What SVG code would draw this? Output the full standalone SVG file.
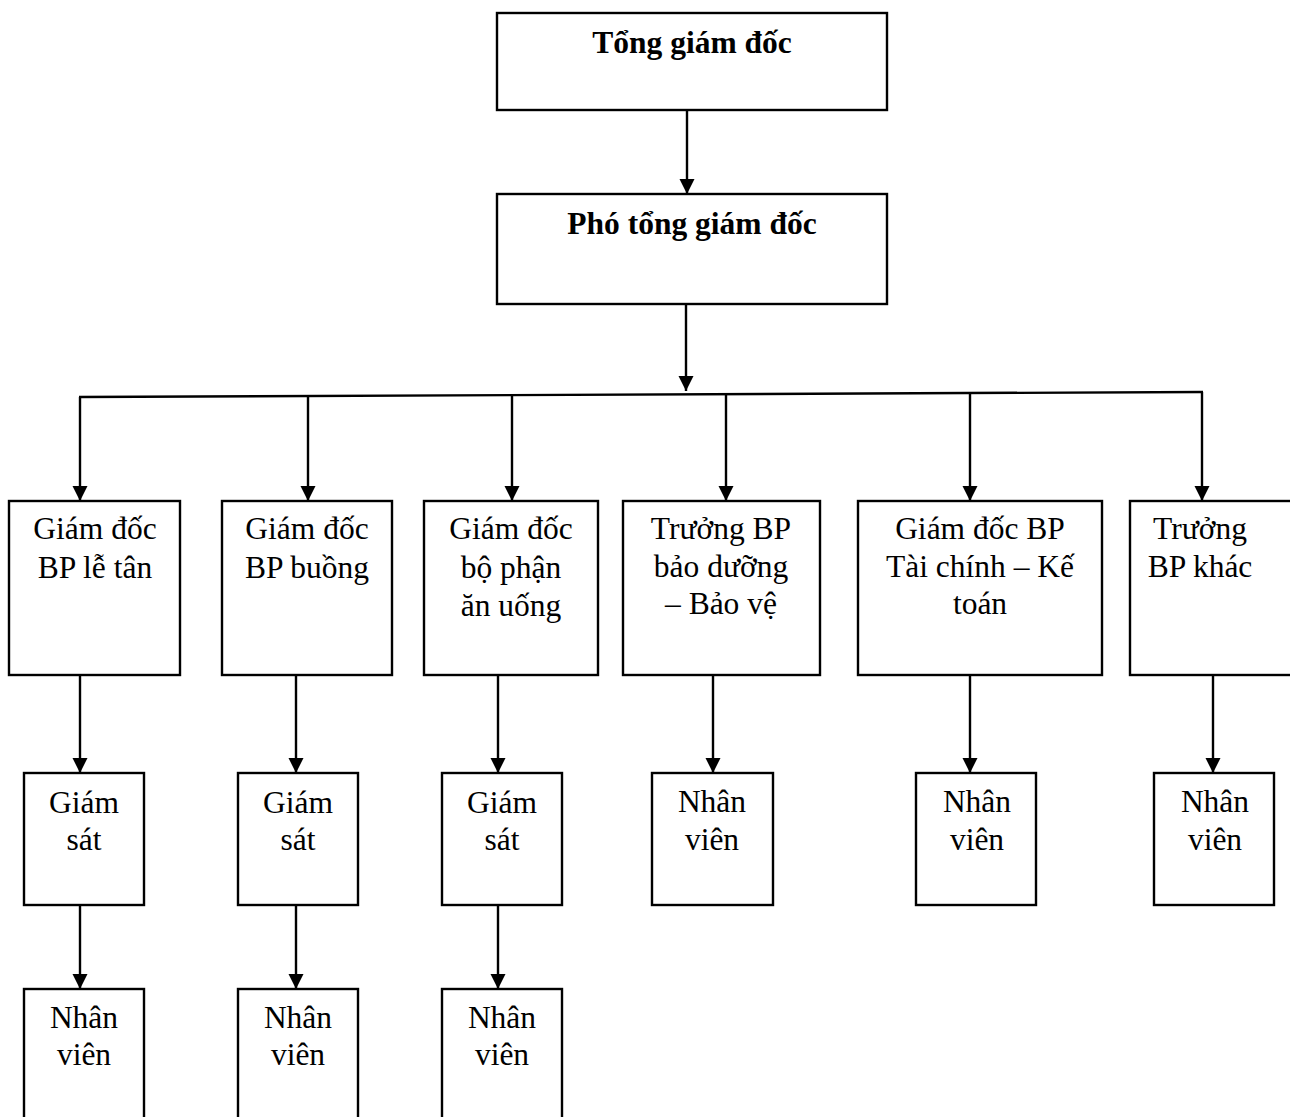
<svg xmlns="http://www.w3.org/2000/svg" width="1290" height="1117" viewBox="0 0 1290 1117">
  <style>
    .box { fill: #ffffff; stroke: #000000; stroke-width: 2.4; }
    .lbl { font-family: "Liberation Serif", "Times New Roman", serif; font-size: 31.5px; font-weight: 400; fill: #000000; text-anchor: middle; }
    .bold { font-weight: 700; }
    .wire { fill: none; stroke: #000000; stroke-width: 2.4; }
  </style>
  <defs>
    <marker id="arrow" markerUnits="userSpaceOnUse" markerWidth="16" markerHeight="16" viewBox="0 0 16 16" refX="15" refY="8" orient="auto">
      <path d="M0,0.5 L15,8 L0,15.5 Z" fill="#000000"/>
    </marker>
  </defs>
  <rect width="1290" height="1117" fill="#ffffff"/>

  <!-- connectors -->
  <g id="connectors" class="wire">
    <line x1="687" y1="110" x2="687" y2="194" marker-end="url(#arrow)"/>
    <line x1="686" y1="304" x2="686" y2="391" marker-end="url(#arrow)"/>
    <line x1="79" y1="397" x2="1203" y2="392"/>
    <line x1="80" y1="397" x2="80" y2="501" marker-end="url(#arrow)"/>
    <line x1="308" y1="396" x2="308" y2="501" marker-end="url(#arrow)"/>
    <line x1="512" y1="395" x2="512" y2="501" marker-end="url(#arrow)"/>
    <line x1="726" y1="394" x2="726" y2="501" marker-end="url(#arrow)"/>
    <line x1="970" y1="393" x2="970" y2="501" marker-end="url(#arrow)"/>
    <line x1="1202" y1="392" x2="1202" y2="501" marker-end="url(#arrow)"/>
    <line x1="80" y1="675" x2="80" y2="773" marker-end="url(#arrow)"/>
    <line x1="296" y1="675" x2="296" y2="773" marker-end="url(#arrow)"/>
    <line x1="498" y1="675" x2="498" y2="773" marker-end="url(#arrow)"/>
    <line x1="713" y1="675" x2="713" y2="773" marker-end="url(#arrow)"/>
    <line x1="970" y1="675" x2="970" y2="773" marker-end="url(#arrow)"/>
    <line x1="1213" y1="675" x2="1213" y2="773" marker-end="url(#arrow)"/>
    <line x1="80" y1="905" x2="80" y2="989" marker-end="url(#arrow)"/>
    <line x1="296" y1="905" x2="296" y2="989" marker-end="url(#arrow)"/>
    <line x1="498" y1="905" x2="498" y2="989" marker-end="url(#arrow)"/>
  </g>

  <!-- top management -->
  <g id="tong-giam-doc">
    <rect class="box" x="497" y="13" width="390" height="97"/>
    <text class="lbl bold" x="692" y="53">Tổng giám đốc</text>
  </g>
  <g id="pho-tong-giam-doc">
    <rect class="box" x="497" y="194" width="390" height="110"/>
    <text class="lbl bold" x="692" y="234">Phó tổng giám đốc</text>
  </g>

  <!-- department heads -->
  <g id="gd-le-tan">
    <rect class="box" x="9" y="501" width="171" height="174"/>
    <text class="lbl" x="95" y="539">Giám đốc</text>
    <text class="lbl" x="95" y="578">BP lễ tân</text>
  </g>
  <g id="gd-buong">
    <rect class="box" x="222" y="501" width="170" height="174"/>
    <text class="lbl" x="307" y="539">Giám đốc</text>
    <text class="lbl" x="307" y="578">BP buồng</text>
  </g>
  <g id="gd-an-uong">
    <rect class="box" x="424" y="501" width="174" height="174"/>
    <text class="lbl" x="511" y="539">Giám đốc</text>
    <text class="lbl" x="511" y="578">bộ phận</text>
    <text class="lbl" x="511" y="616">ăn uống</text>
  </g>
  <g id="truong-bao-duong">
    <rect class="box" x="623" y="501" width="197" height="174"/>
    <text class="lbl" x="721" y="539">Trưởng BP</text>
    <text class="lbl" x="721" y="577">bảo dưỡng</text>
    <text class="lbl" x="721" y="614">– Bảo vệ</text>
  </g>
  <g id="gd-tai-chinh">
    <rect class="box" x="858" y="501" width="244" height="174"/>
    <text class="lbl" x="980" y="539">Giám đốc BP</text>
    <text class="lbl" x="980" y="577">Tài chính – Kế</text>
    <text class="lbl" x="980" y="614">toán</text>
  </g>
  <g id="truong-khac">
    <rect class="box" x="1130" y="501" width="170" height="174"/>
    <text class="lbl" x="1200" y="539">Trưởng</text>
    <text class="lbl" x="1200" y="577">BP khác</text>
  </g>

  <!-- supervisors -->
  <g id="giam-sat-1">
    <rect class="box" x="24" y="773" width="120" height="132"/>
    <text class="lbl" x="84" y="813">Giám</text>
    <text class="lbl" x="84" y="850">sát</text>
  </g>
  <g id="giam-sat-2">
    <rect class="box" x="238" y="773" width="120" height="132"/>
    <text class="lbl" x="298" y="813">Giám</text>
    <text class="lbl" x="298" y="850">sát</text>
  </g>
  <g id="giam-sat-3">
    <rect class="box" x="442" y="773" width="120" height="132"/>
    <text class="lbl" x="502" y="813">Giám</text>
    <text class="lbl" x="502" y="850">sát</text>
  </g>

  <!-- staff under other departments -->
  <g id="nhan-vien-4">
    <rect class="box" x="652" y="773" width="121" height="132"/>
    <text class="lbl" x="712" y="812">Nhân</text>
    <text class="lbl" x="712" y="850">viên</text>
  </g>
  <g id="nhan-vien-5">
    <rect class="box" x="916" y="773" width="120" height="132"/>
    <text class="lbl" x="977" y="812">Nhân</text>
    <text class="lbl" x="977" y="850">viên</text>
  </g>
  <g id="nhan-vien-6">
    <rect class="box" x="1154" y="773" width="120" height="132"/>
    <text class="lbl" x="1215" y="812">Nhân</text>
    <text class="lbl" x="1215" y="850">viên</text>
  </g>

  <!-- staff under supervisors -->
  <g id="nhan-vien-1">
    <rect class="box" x="24" y="989" width="120" height="150"/>
    <text class="lbl" x="84" y="1028">Nhân</text>
    <text class="lbl" x="84" y="1065">viên</text>
  </g>
  <g id="nhan-vien-2">
    <rect class="box" x="238" y="989" width="120" height="150"/>
    <text class="lbl" x="298" y="1028">Nhân</text>
    <text class="lbl" x="298" y="1065">viên</text>
  </g>
  <g id="nhan-vien-3">
    <rect class="box" x="442" y="989" width="120" height="150"/>
    <text class="lbl" x="502" y="1028">Nhân</text>
    <text class="lbl" x="502" y="1065">viên</text>
  </g>
</svg>
